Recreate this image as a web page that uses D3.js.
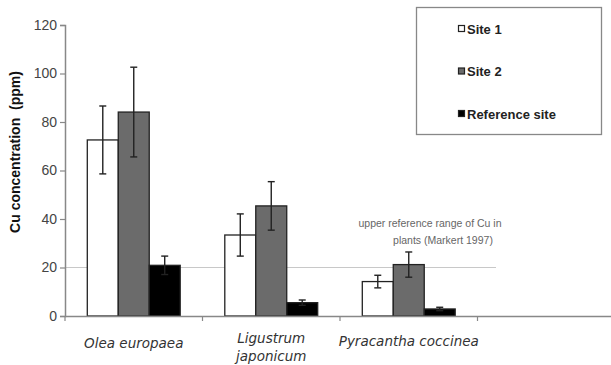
<!DOCTYPE html>
<html><head><meta charset="utf-8">
<script src="https://cdn.jsdelivr.net/npm/d3@7"></script>
<style>body{margin:0;background:#fff}svg{display:block}</style>
</head><body>
<svg id="c" width="611" height="365"></svg>
<script>
const categories = [["Olea europaea"], ["Ligustrum", "japonicum"], ["Pyracantha coccinea"]];
const catKeys = ["Olea europaea", "Ligustrum japonicum", "Pyracantha coccinea"];
const series = ["Site 1", "Site 2", "Reference site"];
const site1 = [72.6, 33.4, 14.2];
const site1Err = [14, 8.7, 2.6];
const site2 = [84.1, 45.4, 21.2];
const site2Err = [18.5, 10, 5.2];
const refSite = [20.9, 5.5, 2.9];
const refSiteErr = [3.8, 1.1, 0.7];
const yTicks = [0, 20, 40, 60, 80, 100, 120];
const refLine = 20;
const refLabel = ["upper reference range of Cu in", "plants (Markert 1997)"];
const yTitle = "Cu concentration\u00a0\u00a0(ppm)";

const values = [site1, site2, refSite];
const errs = [site1Err, site2Err, refSiteErr];
const fills = ["#ffffff", "#6b6b6b", "#000000"];

const svg = d3.select("#c");
const y = d3.scaleLinear().domain([0, 120]).range([316, 25]);
const x0 = d3.scaleBand().domain(catKeys).range([65, 65 + 3 * 137.5]);
const x1 = d3.scaleBand().domain(series).range([0, x0.bandwidth()]).paddingInner(0).paddingOuter(0.72);

// reference line
svg.append("line").attr("x1", 65).attr("x2", 496)
  .attr("y1", y(refLine)).attr("y2", y(refLine))
  .attr("stroke", "#c8c8c8").attr("stroke-width", 1.2);

// y axis
const yAxis = d3.axisLeft(y).tickValues(yTicks).tickSize(5).tickPadding(3);
const ga = svg.append("g").attr("transform", "translate(65,0)").call(yAxis);
ga.select(".domain").attr("stroke", "#888").attr("stroke-width", 1.5);
ga.selectAll(".tick line").attr("stroke", "#888").attr("stroke-width", 1.2);
ga.selectAll(".tick text").attr("font-family", "Liberation Sans, Arial, sans-serif")
  .attr("font-size", 14).attr("fill", "#444");

// bars
series.forEach((s, si) => {
  const g = svg.append("g");
  catKeys.forEach((c, ci) => {
    const v = values[si][ci];
    g.append("rect")
      .attr("x", x0(c) + x1(s)).attr("width", x1.bandwidth())
      .attr("y", y(v)).attr("height", y(0) - y(v))
      .attr("fill", fills[si]).attr("stroke", "#222").attr("stroke-width", 1.3);
  });
});

// x axis
svg.append("line").attr("x1", 65).attr("x2", 611).attr("y1", 316.5).attr("y2", 316.5)
  .attr("stroke", "#888").attr("stroke-width", 1.5);
const bounds = catKeys.map(c => x0(c)).concat([x0.range()[1]]);
bounds.forEach(b => {
  svg.append("line").attr("x1", b).attr("x2", b).attr("y1", 316).attr("y2", 321)
    .attr("stroke", "#888").attr("stroke-width", 1.2);
});

// error bars
series.forEach((s, si) => {
  catKeys.forEach((c, ci) => {
    const v = values[si][ci], e = errs[si][ci];
    const cx = x0(c) + x1(s) + x1.bandwidth() / 2;
    const g = svg.append("g").attr("stroke", "#222").attr("stroke-width", 1.4);
    g.append("line").attr("x1", cx).attr("x2", cx).attr("y1", y(v - e)).attr("y2", y(v + e));
    g.append("line").attr("x1", cx - 3.5).attr("x2", cx + 3.5).attr("y1", y(v + e)).attr("y2", y(v + e));
    g.append("line").attr("x1", cx - 3.5).attr("x2", cx + 3.5).attr("y1", y(v - e)).attr("y2", y(v - e));
  });
});

// category labels
const labelY = [[348], [343, 361], [346]];
categories.forEach((lines, ci) => {
  const cx = x0(catKeys[ci]) + x0.bandwidth() / 2;
  const t = svg.append("text").attr("text-anchor", "middle")
    .attr("font-family", "DejaVu Sans, sans-serif").attr("font-style", "italic")
    .attr("font-size", 13.5).attr("fill", "#333");
  lines.forEach((l, li) => {
    t.append("tspan").attr("x", cx).attr("y", labelY[ci][li]).text(l);
  });
});

// reference annotation
const annX = [430, 443];
const annY = [227, 244];
refLabel.forEach((l, i) => {
  svg.append("text").attr("x", annX[i]).attr("y", annY[i]).attr("text-anchor", "middle")
    .attr("font-family", "Liberation Sans, Arial, sans-serif").attr("font-size", 10.5).attr("fill", "#666")
    .text(l);
});

// y title
svg.append("text").attr("transform", "translate(20,152) rotate(-90)")
  .attr("text-anchor", "middle").attr("font-family", "Liberation Sans, Arial, sans-serif")
  .attr("font-weight", "bold").attr("font-size", 14).attr("fill", "#111").text(yTitle);

// legend
svg.append("rect").attr("x", 416.5).attr("y", 7.5).attr("width", 185).attr("height", 127)
  .attr("fill", "#fff").attr("stroke", "#888").attr("stroke-width", 1.3);
const ly = d3.scalePoint().domain(series).range([29, 114]);
series.forEach((s, si) => {
  svg.append("rect").attr("x", 458.5).attr("y", ly(s) - 3.5).attr("width", 6).attr("height", 6)
    .attr("fill", fills[si]).attr("stroke", "#222").attr("stroke-width", 1.2);
  svg.append("text").attr("x", 467).attr("y", ly(s) + 4.5)
    .attr("font-family", "Liberation Sans, Arial, sans-serif").attr("font-weight", "bold")
    .attr("font-size", 13).attr("fill", "#222").text(s);
});
</script>
</body></html>
